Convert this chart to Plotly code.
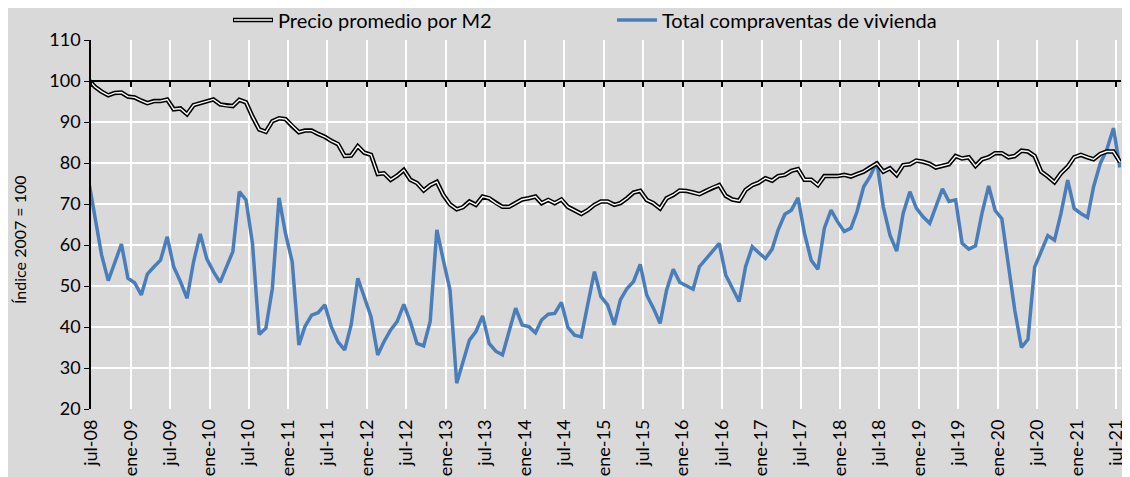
import pandas as pd
import plotly.graph_objects as go

# meses jun-08 .. jul-21 (jun-08 solo asoma en el borde del eje)
fechas = pd.date_range("2008-06-01", periods=158, freq="MS") + pd.Timedelta(days=18)

precio = [100.3,
          98.6, 97.4, 96.5, 97.1, 97.2, 96.2, 96.0, 95.2, 94.6, 95.1, 95.1, 95.5,
          93.1, 93.3, 91.9, 94.1, 94.6, 95.0, 95.5, 94.3, 94.0, 93.9, 95.4, 94.8,
          91.3, 88.2, 87.6, 90.2, 90.9, 90.7, 89.0, 87.5, 87.9, 87.9, 87.1, 86.4,
          85.4, 84.6, 81.7, 81.8, 84.1, 82.5, 82.0, 77.3, 77.5, 75.9, 76.9, 78.3,
          75.9, 75.1, 73.3, 74.6, 75.4, 72.2, 69.9, 68.7, 69.2, 70.6, 69.8, 71.8,
          71.4, 70.2, 69.3, 69.3, 70.2, 71.1, 71.4, 71.8, 70.2, 71.0, 70.2, 71.1,
          69.3, 68.4, 67.6, 68.5, 69.8, 70.6, 70.6, 69.8, 70.2, 71.4, 72.8, 73.2,
          71.0, 70.2, 68.9, 71.4, 72.2, 73.3, 73.2, 72.8, 72.4, 73.2, 74.0, 74.6,
          72.0, 71.1, 70.8, 73.4, 74.6, 75.2, 76.3, 75.7, 76.8, 77.1, 78.1, 78.5,
          75.9, 75.9, 74.6, 76.8, 76.8, 76.8, 77.1, 76.7, 77.3, 77.9, 78.9, 79.9,
          77.9, 78.7, 77.1, 79.5, 79.7, 80.6, 80.3, 79.8, 78.9, 79.3, 79.7, 81.7,
          81.1, 81.4, 79.3, 80.9, 81.4, 82.4, 82.4, 81.4, 81.7, 83.0, 82.8, 81.7,
          77.9, 76.7, 75.3, 77.5, 79.1, 81.4, 82.0, 81.4, 80.9, 82.2, 82.8, 82.8,
          80.3]

compraventas = [76.0,
                67.5, 57.6, 51.3, 55.8, 60.2, 51.9, 50.8, 47.8, 52.9, 54.7, 56.3, 62.0,
                54.7, 51.1, 47.0, 55.9, 62.7, 56.7, 53.5, 50.9, 54.6, 58.4, 73.0, 71.0,
                60.4, 38.2, 39.7, 49.4, 71.5, 62.8, 55.9, 35.6, 40.1, 42.9, 43.5, 45.4,
                40.1, 36.4, 34.4, 40.5, 51.9, 47.0, 42.5, 33.2, 36.4, 39.3, 41.3, 45.5,
                41.3, 36.0, 35.4, 41.3, 63.7, 56.3, 49.0, 26.3, 31.5, 36.8, 38.9, 42.7,
                36.0, 34.1, 33.2, 38.9, 44.6, 40.5, 40.1, 38.6, 41.7, 43.1, 43.3, 46.0,
                39.9, 38.0, 37.6, 45.5, 53.5, 47.4, 45.4, 40.5, 46.6, 49.4, 51.1, 55.3,
                47.8, 44.6, 40.9, 49.0, 54.1, 50.9, 50.0, 49.2, 54.7, 56.7, 58.5, 60.4,
                52.7, 49.4, 46.2, 54.7, 59.6, 58.1, 56.7, 59.0, 63.7, 67.5, 68.5, 71.5,
                62.8, 56.3, 54.1, 64.1, 68.5, 65.7, 63.3, 64.1, 68.1, 74.2, 76.7, 80.3,
                69.3, 62.4, 58.5, 67.7, 73.0, 69.0, 66.9, 65.3, 69.3, 73.7, 70.6, 71.0,
                60.4, 59.0, 59.8, 67.7, 74.4, 68.4, 66.4, 54.7, 44.1, 35.0, 37.0, 54.6,
                58.4, 62.3, 61.2, 67.7, 75.8, 68.9, 67.7, 66.7, 74.2, 79.9, 83.2, 88.5,
                78.9]

etiquetas = ["jul-08", "ene-09", "jul-09", "ene-10", "jul-10", "ene-11", "jul-11",
             "ene-12", "jul-12", "ene-13", "jul-13", "ene-14", "jul-14", "ene-15",
             "jul-15", "ene-16", "jul-16", "ene-17", "jul-17", "ene-18", "jul-18",
             "ene-19", "jul-19", "ene-20", "jul-20", "ene-21", "jul-21"]
ticks = pd.date_range("2008-07-01", "2021-07-01", freq="6MS")

# la pagina deja 8 px de margen blanco arriba y a la izquierda
W, H = 1122, 469
L, R, T, B = 83, 9, 32, 68
pw, ph = W - L - R, H - T - B


def px(x):
    # x en pixeles de la ventana
    return (x - 8 - L) / pw


def py(y):
    return (H - B - (y - 8)) / ph


GRIS = "#d9d9d9"
AZUL = "#4a7ebb"
FUENTE = "Lato"
rango = ["2008-07-01", "2021-07-24"]

fig = go.Figure()
fig.add_trace(go.Scatter(x=fechas, y=compraventas, mode="lines",
                         line=dict(color=AZUL, width=3.5), showlegend=False))
fig.add_trace(go.Scatter(x=fechas, y=precio, mode="lines",
                         line=dict(color="black", width=4.5), showlegend=False))
# el trazo blanco va en x2 para que se dibuje la linea del eje en 100
fig.add_trace(go.Scatter(x=fechas, y=precio, mode="lines", xaxis="x2",
                         line=dict(color="white", width=1.4), showlegend=False))

fig.update_layout(
    width=W, height=H,
    margin=dict(l=L, r=R, t=T, b=B, autoexpand=False),
    paper_bgcolor=GRIS, plot_bgcolor=GRIS,
    font=dict(family=FUENTE, size=17, color="black"),
    xaxis=dict(type="date", range=rango, tickvals=ticks, ticktext=etiquetas,
               tickangle=-90, showgrid=True, gridcolor="white", gridwidth=2,
               showline=False, ticks="", zeroline=False, automargin=False,
               ticklabelstandoff=6, tickfont=dict(size=18)),
    xaxis2=dict(type="date", range=rango, overlaying="x", anchor="free",
                position=80 / 90, tickvals=ticks, showticklabels=False,
                showgrid=False, showline=True, linecolor="black", linewidth=2,
                ticks="outside", ticklen=5, tickwidth=1.5, tickcolor="black",
                automargin=False),
    yaxis=dict(range=[20, 110], dtick=10, showgrid=True, gridcolor="white",
               gridwidth=2, showline=True, linecolor="black", linewidth=1.5,
               ticks="outside", ticklen=5, tickcolor="black", zeroline=False,
               automargin=False, tickfont=dict(size=18)),
)

shapes = [
    dict(type="line", xref="paper", yref="paper", x0=px(233), x1=px(273),
         y0=py(20), y1=py(20), line=dict(color="black", width=4.5)),
    dict(type="line", xref="paper", yref="paper", x0=px(234), x1=px(272),
         y0=py(20), y1=py(20), line=dict(color="white", width=1.4)),
    dict(type="line", xref="paper", yref="paper", x0=px(617), x1=px(657),
         y0=py(20), y1=py(20), line=dict(color=AZUL, width=3.5)),
]
fig.update_layout(shapes=shapes)

fig.add_annotation(text="Precio promedio por M2", xref="paper", yref="paper",
                   x=px(276), y=py(20), xanchor="left", yanchor="middle",
                   showarrow=False, font=dict(size=20))
fig.add_annotation(text="Total compraventas de vivienda", xref="paper", yref="paper",
                   x=px(660), y=py(20), xanchor="left", yanchor="middle",
                   showarrow=False, font=dict(size=20))
fig.add_annotation(text="Índice 2007 = 100", xref="paper", yref="paper",
                   x=px(19), y=py(240), xanchor="center", yanchor="middle",
                   textangle=-90, showarrow=False, font=dict(size=16))

fig.write_html("out.html")
